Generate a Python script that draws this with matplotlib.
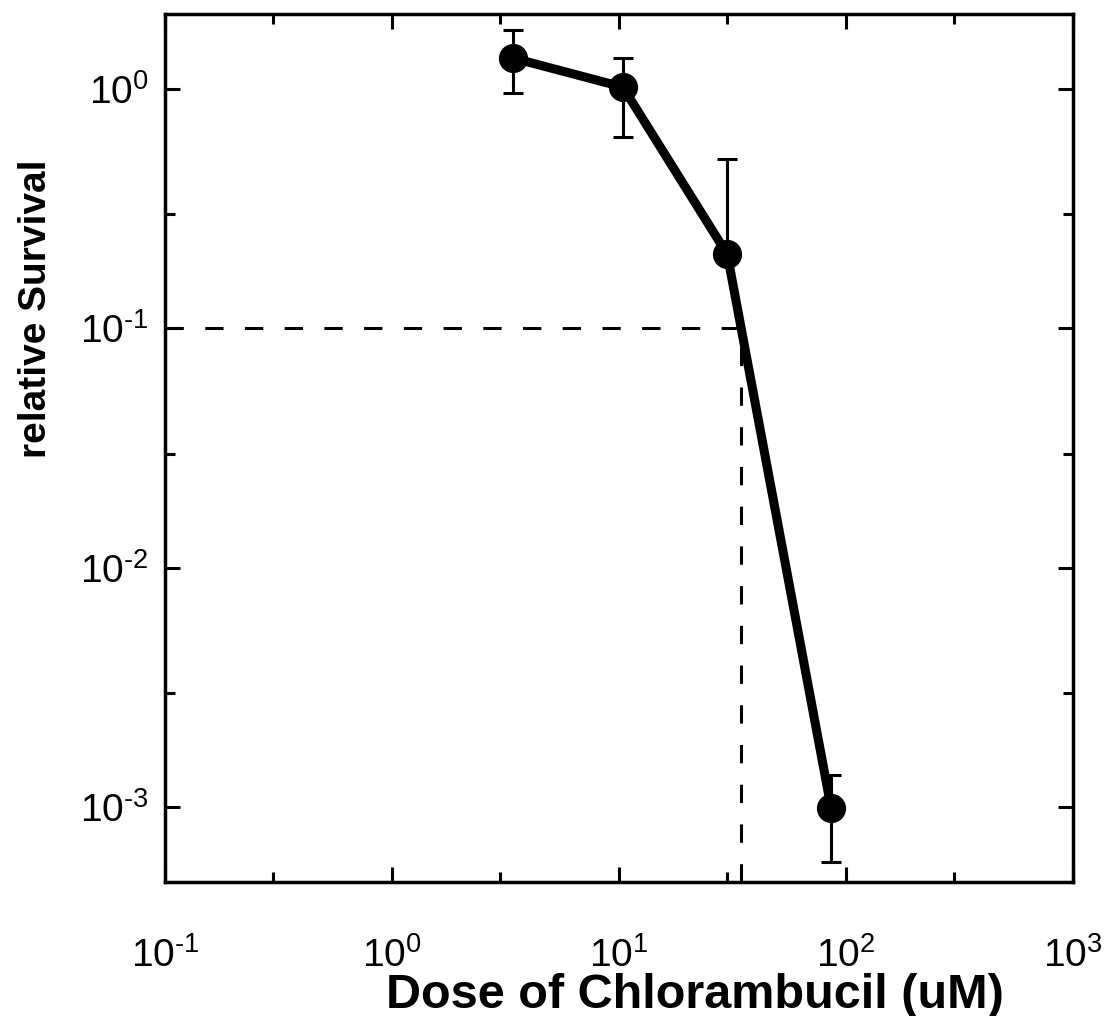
import matplotlib
matplotlib.use("Agg")
import matplotlib.pyplot as plt
from matplotlib.ticker import FixedLocator, NullFormatter, FuncFormatter
import math

plt.rcParams['font.family'] = ['Liberation Sans', 'DejaVu Sans']
plt.rcParams['mathtext.fontset'] = 'custom'
plt.rcParams['mathtext.rm'] = 'Liberation Sans'
plt.rcParams['mathtext.it'] = 'Liberation Sans'
plt.rcParams['mathtext.bf'] = 'Liberation Sans:bold'

# Data
dose = [3.4, 10.4, 30.0, 86.0]
survival = [1.35, 1.02, 0.204, 0.00099]
err_upper = [1.76, 1.35, 0.51, 0.00136]
err_lower = [0.96, 0.63, 0.204, 0.00059]

ld50_dose = 34.5
ld50_level = 0.1

xticks = [0.1, 1, 10, 100, 1000]
yticks = [1e-3, 1e-2, 1e-1, 1]


def pow_label(v, pos=None):
    e = int(round(math.log10(v)))
    s = str(e).replace('-', '\u2010')
    return r'$\mathregular{10^{' + s + '}}$'


fig = plt.figure(figsize=(11.10, 10.16), dpi=100)
ax = fig.add_axes([0.1486, 0.1319, 0.8181, 0.8543])
ax.set_xscale('log')
ax.set_yscale('log')
ax.set_xlim(0.1, 1000)
ax.set_ylim(4.86e-4, 2.06)

# dashed guide lines
ax.plot([0.1, ld50_dose], [ld50_level, ld50_level], color='black', lw=2.2,
        dashes=(6, 7), zorder=1)
ax.plot([ld50_dose, ld50_dose], [4.86e-4, ld50_level], color='black', lw=2.2,
        dashes=(6, 7), zorder=1)

yerr = [[s - l for s, l in zip(survival, err_lower)],
        [u - s for s, u in zip(survival, err_upper)]]
ax.errorbar(dose, survival, yerr=yerr, fmt='none', ecolor='black',
            elinewidth=2.2, capsize=7.5, capthick=2.2, zorder=2)
ax.plot(dose, survival, color='black', lw=6.5, marker='o', markersize=20,
        zorder=3)

ax.xaxis.set_major_locator(FixedLocator(xticks))
ax.yaxis.set_major_locator(FixedLocator(yticks))
ax.xaxis.set_major_formatter(FuncFormatter(pow_label))
ax.yaxis.set_major_formatter(FuncFormatter(pow_label))
ax.xaxis.set_minor_locator(FixedLocator([0.3, 3, 30, 300]))
ax.yaxis.set_minor_locator(FixedLocator([3e-1, 3e-2, 3e-3]))
ax.xaxis.set_minor_formatter(NullFormatter())
ax.yaxis.set_minor_formatter(NullFormatter())

ax.tick_params(which='both', direction='in', top=True, right=True,
               width=2.2, labelsize=28)
ax.tick_params(which='major', length=11)
ax.tick_params(which='minor', length=7.5)
ax.tick_params(axis='x', which='major', pad=40)
ax.tick_params(axis='y', which='major', pad=12)

for sp in ax.spines.values():
    sp.set_linewidth(2.5)

ax.set_xlabel('Dose of Chlorambucil (uM)', fontsize=35, fontweight='bold')
ax.xaxis.set_label_coords(0.584, -0.105)
ax.set_ylabel('relative Survival', fontsize=28, fontweight='bold')
ax.yaxis.set_label_coords(-0.122, 0.66)

fig.savefig('out.png', dpi=100)
